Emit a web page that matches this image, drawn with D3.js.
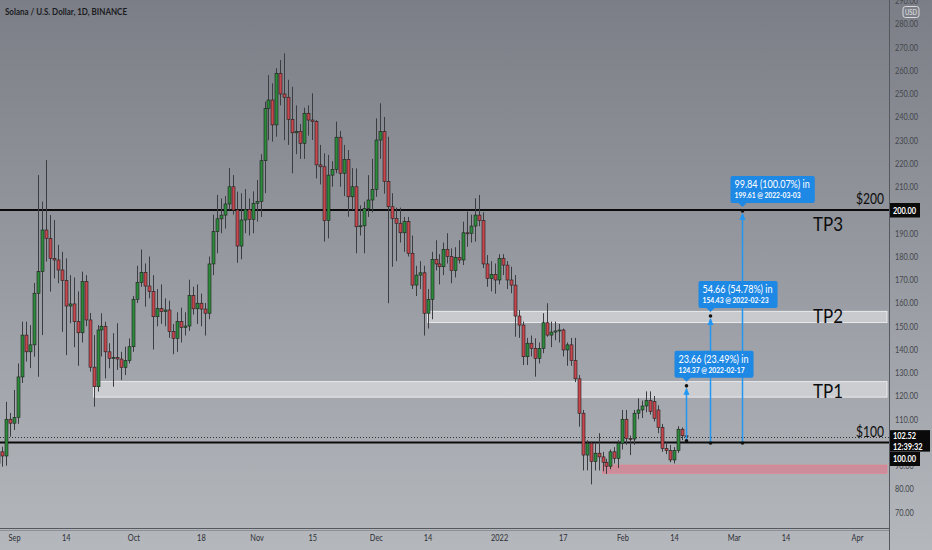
<!DOCTYPE html>
<html><head><meta charset="utf-8">
<script src="https://cdn.jsdelivr.net/npm/d3@7/dist/d3.min.js"></script>
<style>
body{margin:0;overflow:hidden;background:#9a9da3}
text{font-family:Lato,"Open Sans",sans-serif}
</style>
</head><body>
<svg id="c" width="932" height="550"></svg>
<script>
// ---------------- DATA ----------------
const title = "Solana / U.S. Dollar, 1D, BINANCE";
const dates = [
"2021-08-28","2021-08-29","2021-08-30","2021-08-31",
"2021-09-01","2021-09-02","2021-09-03","2021-09-04","2021-09-05","2021-09-06","2021-09-07","2021-09-08","2021-09-09","2021-09-10",
"2021-09-11","2021-09-12","2021-09-13","2021-09-14","2021-09-15","2021-09-16","2021-09-17","2021-09-18","2021-09-19","2021-09-20",
"2021-09-21","2021-09-22","2021-09-23","2021-09-24","2021-09-25","2021-09-26","2021-09-27","2021-09-28","2021-09-29","2021-09-30",
"2021-10-01","2021-10-02","2021-10-03","2021-10-04","2021-10-05","2021-10-06","2021-10-07","2021-10-08","2021-10-09","2021-10-10",
"2021-10-11","2021-10-12","2021-10-13","2021-10-14","2021-10-15","2021-10-16","2021-10-17","2021-10-18","2021-10-19","2021-10-20",
"2021-10-21","2021-10-22","2021-10-23","2021-10-24","2021-10-25","2021-10-26","2021-10-27","2021-10-28","2021-10-29","2021-10-30","2021-10-31",
"2021-11-01","2021-11-02","2021-11-03","2021-11-04","2021-11-05","2021-11-06","2021-11-07","2021-11-08","2021-11-09","2021-11-10",
"2021-11-11","2021-11-12","2021-11-13","2021-11-14","2021-11-15","2021-11-16","2021-11-17","2021-11-18","2021-11-19","2021-11-20",
"2021-11-21","2021-11-22","2021-11-23","2021-11-24","2021-11-25","2021-11-26","2021-11-27","2021-11-28","2021-11-29","2021-11-30",
"2021-12-01","2021-12-02","2021-12-03","2021-12-04","2021-12-05","2021-12-06","2021-12-07","2021-12-08","2021-12-09","2021-12-10",
"2021-12-11","2021-12-12","2021-12-13","2021-12-14","2021-12-15","2021-12-16","2021-12-17","2021-12-18","2021-12-19","2021-12-20",
"2021-12-21","2021-12-22","2021-12-23","2021-12-24","2021-12-25","2021-12-26","2021-12-27","2021-12-28","2021-12-29","2021-12-30","2021-12-31",
"2022-01-01","2022-01-02","2022-01-03","2022-01-04","2022-01-05","2022-01-06","2022-01-07","2022-01-08","2022-01-09","2022-01-10",
"2022-01-11","2022-01-12","2022-01-13","2022-01-14","2022-01-15","2022-01-16","2022-01-17","2022-01-18","2022-01-19","2022-01-20",
"2022-01-21","2022-01-22","2022-01-23","2022-01-24","2022-01-25","2022-01-26","2022-01-27","2022-01-28","2022-01-29","2022-01-30","2022-01-31",
"2022-02-01","2022-02-02","2022-02-03","2022-02-04","2022-02-05","2022-02-06","2022-02-07","2022-02-08","2022-02-09","2022-02-10",
"2022-02-11","2022-02-12","2022-02-13","2022-02-14","2022-02-15","2022-02-16","2022-02-17"];

const opens = [
91,96,94.2,110,
108.3,110.8,128.2,146.2,139,142,164.2,173.5,191.4,187.8,
179.2,178.5,174.2,169.6,158.7,159.6,152,147.2,169.2,152.7,
132.4,124,148.4,150,139,136.2,136.6,135.9,132.3,135.2,
141.2,161.6,168.9,173.2,167.3,164.9,154.1,157.6,156.3,157,
147.7,144.8,152,149.5,150.1,163.2,157.5,159.9,157.4,155.6,
176.8,190.7,196.2,197.8,202.6,210,200,184.5,195.7,200.3,196,
202.9,203.7,221.2,243.7,247.3,236.6,258.8,249.9,248.5,239,
233.2,233.8,228.7,241.6,238.7,238,219.4,218.6,195.4,215,
217.5,231.3,215.8,221.8,205.7,210,192.8,193.2,200.7,204.3,
208.9,230.1,233.7,212.2,201.4,196.4,194.3,190.2,195,181.4,
167.7,172,173,155.6,161.6,178.8,176.8,175.6,183.1,180,
173.9,179.6,178.5,190.2,190,193.1,197.8,195.4,176.8,170.5,172.3,
169.9,179.2,176.3,169.9,167.7,154.4,150.5,136.9,142.7,140.5,
136.2,140.5,151.5,146.2,147.5,148,148.4,139.8,142,135.2,
127.4,112.6,94.6,99.7,91.8,95.4,93.8,91.5,89.8,96,93.2,
99.7,110,101.8,101.5,112.6,114,115.7,118,117.6,114,
106.5,97.5,96.5,92.5,96.5,105.7,102.9];

const highs = [
97,98.2,117.5,112.7,
122.6,134,152,152,150.5,168.6,215,203.6,221.5,197.8,
195.7,185,182,179.2,172,171,165,173.5,172,155.7,
146.2,150.5,155.6,152,142.7,147,151.3,139,141.2,144.8,
163,176,183,177,180,172,166,168,162,161,
151,156,158,156,170,167,168,164,160,180,
198,206.5,205,206,218,215,207.9,207.2,209,205,208,
212.9,224,246.6,258,254.5,261,264.5,267.4,256,253,
245,237,244,245,250.2,238.7,228,224.4,223.7,221,
238,234,228,225.8,218,217.9,202,203.6,215,222,
239.4,245.9,240,231.5,207.2,201,201,197,197,189,
176,178,176,166,182,187,181,186,190,183.5,
184,187,195,199.3,198,205,206.5,199,180.6,178,177,
181,181,178,175.6,172,157,152,145,146,144.8,
143,155.6,159.9,152,152,151,149,143,145,145,
129,114,101,100.5,100,104,96,93,97,98,101,
114,114,103,114,119,118,122,122,120,116,
108,100,99,98,107,106.5,104];

const lows = [
88,89.6,90,102.5,
105.4,108,125.6,134.8,132,136.9,128.3,146.2,177.8,164.9,
170.6,168.5,147.6,137.6,151.3,141,133,143,150,130.5,
115.4,121.9,137,127.6,131.9,124,131.2,126.9,129,134,
139,160,167,158.4,162,140,150,151,150,145,
138,139,143,146,148,155,151,150,146,153,
172,181.4,190,192,200,198,177.3,178.8,190,189,190,
195,197,207.2,230,229.4,231.5,245,230,228,215.8,
224,222,222,232,230.1,213.6,211,186.4,187.8,210,
215.8,210,206,197.1,200,181.4,189,181.4,197,199,
205.7,222,207,159.9,175.6,178,186,182,180,166,
163,166,146,149,153,174,168,172,177,168.5,
171,177,176.3,184.2,186,186.4,193,175,167,165,164,
168,172,166,164.2,145.5,145,133.3,133.3,137,128.3,
134,138.4,145.5,141,144,143,137,133,133,126,
106.8,88,88,82,88,88,87.6,86.5,88.5,91,89,
97,99,94.6,99,110,110.5,113,112,109,104,
96,95,91.5,91,95.5,101,100.5];

const closes = [
96,94.2,110,108.3,
110.8,128.2,146.2,139,142,164.2,173.5,191.4,187.8,179.2,
178.5,174.2,169.6,158.7,159.6,152,147.2,169.2,152.7,132.4,
124,148.4,150,139,136.2,136.6,135.9,132.3,135.2,141.2,
161.6,168.9,173.2,167.3,164.9,154.1,157.6,156.3,157,147.7,
144.8,152,149.5,150.1,163.2,157.5,159.9,157.4,155.6,176.8,
190.7,196.2,197.8,202.6,210,200,184.5,195.7,200.3,196,202.9,
203.7,221.2,243.7,247.3,236.6,258.8,249.9,248.5,239,233.2,
233.8,228.7,241.6,238.7,238,219.4,218.6,195.4,215,217.5,
231.3,215.8,221.8,205.7,210,192.8,193.2,200.7,204.3,208.9,
230.1,233.7,212.2,201.4,196.4,194.3,190.2,195,181.4,167.7,
172,173,155.6,161.6,178.8,176.8,175.6,183.1,180,173.9,
179.6,178.5,190.2,190,193.1,197.8,195.4,176.8,170.5,172.3,169.9,
179.2,176.3,169.9,167.7,154.4,150.5,136.9,142.7,140.5,136.2,
140.5,151.5,146.2,147.5,148,148.4,139.8,142,135.2,127.4,
112.6,94.6,99.7,91.8,95.4,93.8,91.5,89.8,96,93.2,99.7,
110,101.8,101.5,112.6,114,115.7,118,113.3,110.4,106.5,
97.5,96.5,92.5,96.5,105.7,102.9,102.52];

const priceTicks = [70,80,90,110,120,130,140,150,160,170,180,190,210,220,230,240,250,260,270,280,290];
const timeTickDates = ["2021-09-01","2021-09-14","2021-10-01","2021-10-18","2021-11-01","2021-11-15","2021-12-01","2021-12-14","2022-01-01","2022-01-17","2022-02-01","2022-02-14","2022-03-01","2022-03-14","2022-04-01"];
const timeTickLabels = ["Sep","14","Oct","18","Nov","15","Dec","14","2022","17","Feb","14","Mar","14","Apr"];

const levelPrices = [200, 100];
const levelLabels = ["$200", "$100"];
const bandLows = [119.5, 151.6, 86.7];
const bandHighs = [126.2, 156.4, 90.3];
const bandStarts = ["2021-09-21", "2021-12-14", "2022-01-27"];
const bandKinds = ["grey", "grey", "red"];
const tpLabels = ["TP1", "TP2", "TP3"];
const tpPrices = [119.5, 151.6, 191.5];

const measureDates = ["2022-02-17", "2022-02-23", "2022-03-03"];
const measureStarts = [100.71, 99.77, 99.77];
const measureEnds = [124.37, 154.43, 199.61];
const measureLine1 = ["23.66 (23.49%) in", "54.66 (54.78%) in", "99.84 (100.07%) in"];
const measureLine2 = ["124.37 @ 2022-02-17", "154.43 @ 2022-02-23", "199.61 @ 2022-03-03"];

const lastPrice = 102.52;
const countdown = "12:39:32";

// ---------------- LAYOUT ----------------
const W = 932, H = 550, plotR = 889, plotB = 528;
const parse = d3.utcParse("%Y-%m-%d");
const fmt2 = d3.format(".2f");
const x = d3.scaleUtc().domain([parse("2021-09-01"), parse("2022-04-01")]).range([14, 857]);
const y = d3.scaleLinear().domain([70, 280]).range([512.25, 24]);

function squeeze(sel, k) {
  sel.each(function () {
    const n = this.getComputedTextLength();
    d3.select(this).attr("textLength", n * k).attr("lengthAdjust", "spacingAndGlyphs");
  });
  return sel;
}
function fitTo(sel, w) {
  return sel.attr("textLength", w).attr("lengthAdjust", "spacingAndGlyphs");
}

const svg = d3.select("#c");
const defs = svg.append("defs");
const grad = defs.append("linearGradient").attr("id", "bg").attr("x1", 0).attr("y1", 0).attr("x2", 0).attr("y2", 1);
grad.append("stop").attr("offset", "0%").attr("stop-color", "#7b7e86");
grad.append("stop").attr("offset", "100%").attr("stop-color", "#b4b7bc");
defs.append("clipPath").attr("id", "clip").append("rect").attr("x", 0).attr("y", 0).attr("width", plotR).attr("height", plotB);

svg.append("rect").attr("width", W).attr("height", H).attr("fill", "url(#bg)");

const g = svg.append("g").attr("clip-path", "url(#clip)");

// bands
bandLows.forEach((lo, i) => {
  const x0 = x(parse(bandStarts[i]));
  const isRed = bandKinds[i] === "red";
  g.append("rect")
    .attr("x", x0).attr("y", y(bandHighs[i]))
    .attr("width", plotR - 2 - x0).attr("height", y(lo) - y(bandHighs[i]))
    .attr("fill", isRed ? "rgba(238,105,125,0.5)" : "rgba(236,237,239,0.55)")
    .attr("stroke", isRed ? "rgba(240,125,140,0.55)" : "rgba(246,246,248,0.8)")
    .attr("stroke-width", 1);
});

// level lines
levelPrices.forEach(p => {
  g.append("line").attr("x1", 0).attr("x2", plotR).attr("y1", y(p)).attr("y2", y(p))
    .attr("stroke", "#0b0b0b").attr("stroke-width", 2);
});

// last price dotted line
const lpY = Math.round(y(lastPrice)) + 0.5;
g.append("line").attr("x1", 0).attr("x2", plotR).attr("y1", lpY).attr("y2", lpY)
  .attr("stroke", "#333").attr("stroke-width", 1).attr("stroke-dasharray", "1,2");

// candles
const bars = dates.map((d, i) => ({t: parse(d), o: opens[i], h: highs[i], l: lows[i], c: closes[i]}));
const cg = g.append("g");
cg.selectAll("line.w").data(bars).join("line").attr("class", "w")
  .attr("x1", d => Math.round(x(d.t)) + 0.5).attr("x2", d => Math.round(x(d.t)) + 0.5)
  .attr("y1", d => y(d.h)).attr("y2", d => y(d.l))
  .attr("stroke", "#3c3d40").attr("stroke-width", 1);
cg.selectAll("rect.b").data(bars).join("rect").attr("class", "b")
  .attr("x", d => Math.round(x(d.t)) - 1)
  .attr("width", 3)
  .attr("y", d => y(Math.max(d.o, d.c)))
  .attr("height", d => Math.max(1, Math.abs(y(d.o) - y(d.c))))
  .attr("fill", d => d.c >= d.o ? "#2b8a3b" : "#c6474e")
  .attr("stroke", "#1f1f1f").attr("stroke-width", 0.6);

// TP labels
tpLabels.forEach((t, i) => {
  fitTo(g.append("text").attr("x", 813).attr("y", i === 2 ? y(200) + 21 : y(tpPrices[i]) + 0.5)
    .attr("font-size", 20).attr("fill", "#0d0d0d").text(t), 30);
});
levelPrices.forEach((p, i) => {
  fitTo(g.append("text").attr("x", 856).attr("y", y(p) - 6)
    .attr("font-size", 15).attr("fill", "#0d0d0d").text(levelLabels[i]), 28);
});

// measurement arrows: lines first, then labels on top
const mLines = g.append("g"), mLabels = g.append("g");
measureDates.forEach((d, i) => {
  const mx = Math.round(x(parse(d))) + 0.5;
  const y0 = y(measureStarts[i]), y1 = y(measureEnds[i]);
  mLines.append("line").attr("x1", mx).attr("x2", mx).attr("y1", y0).attr("y2", y1 + 3)
    .attr("stroke", "#2196f3").attr("stroke-width", 1.5);
  mLines.append("path").attr("d", `M${mx - 3},${y1 + 9} L${mx},${y1 + 2} L${mx + 3},${y1 + 9} Z`).attr("fill", "#2196f3");
  mLines.append("circle").attr("cx", mx).attr("cy", y0).attr("r", 1.8).attr("fill", "#111");
  mLines.append("circle").attr("cx", mx).attr("cy", y1).attr("r", 1.8).attr("fill", "#111");
  const lg = mLabels.append("g");
  const t1 = squeeze(lg.append("text").attr("font-size", 10.5).attr("fill", "#fff").text(measureLine1[i]), 0.86);
  const t2 = squeeze(lg.append("text").attr("font-size", 7.8).attr("font-weight", "bold").attr("fill", "#fff").text(measureLine2[i]), 0.86);
  const w = Math.max(+t1.attr("textLength"), +t2.attr("textLength")) + 9;
  const bx = mx - 12, bb = y1 - 8, bt = bb - 27;
  lg.insert("path", "text")
    .attr("d", `M${bx + 2},${bt} H${bx + w - 2} Q${bx + w},${bt} ${bx + w},${bt + 2} V${bb - 2} Q${bx + w},${bb} ${bx + w - 2},${bb} H${mx + 4} L${mx},${bb + 4} L${mx - 4},${bb} H${bx + 2} Q${bx},${bb} ${bx},${bb - 2} V${bt + 2} Q${bx},${bt} ${bx + 2},${bt} Z`)
    .attr("fill", "#1e88e5");
  t1.attr("x", bx + 4).attr("y", bt + 12);
  t2.attr("x", bx + 4).attr("y", bt + 22.5);
});

// title
fitTo(svg.append("text").attr("x", 5).attr("y", 15).attr("font-size", 10).attr("font-weight", "bold").attr("fill", "#1b1c1f").text(title), 122);

// separators
svg.append("line").attr("x1", plotR + 0.5).attr("x2", plotR + 0.5).attr("y1", 0).attr("y2", H).attr("stroke", "#55585e").attr("stroke-width", 1);
svg.append("line").attr("x1", 0).attr("x2", plotR).attr("y1", plotB + 0.5).attr("y2", plotB + 0.5).attr("stroke", "#55585e").attr("stroke-width", 1);
svg.append("line").attr("x1", 0).attr("x2", plotR).attr("y1", plotB + 2.5).attr("y2", plotB + 2.5).attr("stroke", "#8d9096").attr("stroke-width", 1);

// right axis
const yAxis = d3.axisRight(y).tickValues(priceTicks).tickFormat(fmt2).tickSize(0).tickPadding(6);
const ya = svg.append("g").attr("transform", `translate(${plotR},0)`).call(yAxis);
ya.select(".domain").remove();
ya.selectAll("text").attr("font-size", 9).attr("fill", "#44474d").attr("font-family", null);
squeeze(ya.selectAll("text"), 0.82);

// bottom axis
const xAxis = d3.axisBottom(x).tickValues(timeTickDates.map(parse)).tickFormat((d, i) => timeTickLabels[i]).tickSize(0).tickPadding(7);
const xa = svg.append("g").attr("transform", `translate(0,${plotB})`).call(xAxis);
xa.select(".domain").remove();
xa.selectAll("text").attr("font-size", 9).attr("fill", "#2d3035").attr("font-family", null);
squeeze(xa.selectAll("text"), 0.82);

// USD badge
svg.append("rect").attr("x", 903).attr("y", 6.5).attr("width", 16).attr("height", 11).attr("rx", 2.5)
  .attr("fill", "none").attr("stroke", "#d8dadd").attr("stroke-width", 1);
fitTo(svg.append("text").attr("x", 905).attr("y", 15).attr("font-size", 7.5).attr("fill", "#e4e6e8").text("USD"), 12);

// price boxes
function priceBox(top, bottom, lines, w) {
  svg.append("rect").attr("x", plotR + 1).attr("y", top).attr("width", w).attr("height", bottom - top).attr("fill", "#0a0a0a");
  const step = (bottom - top) / lines.length;
  lines.forEach((s, k) => {
    squeeze(svg.append("text").attr("x", plotR + 4).attr("y", top + step * k + step / 2 + 3.3)
      .attr("font-size", 9).attr("font-weight", "bold").attr("fill", "#fff").text(s), 0.82);
  });
}
priceBox(y(200) - 7, y(200) + 7.5, [fmt2(200)], 30);
priceBox(y(lastPrice) - 6.5, y(lastPrice) + 15, [fmt2(lastPrice), countdown], 40);
priceBox(y(100) + 9.5, y(100) + 23.5, [fmt2(100)], 30);
</script>
</body></html>
